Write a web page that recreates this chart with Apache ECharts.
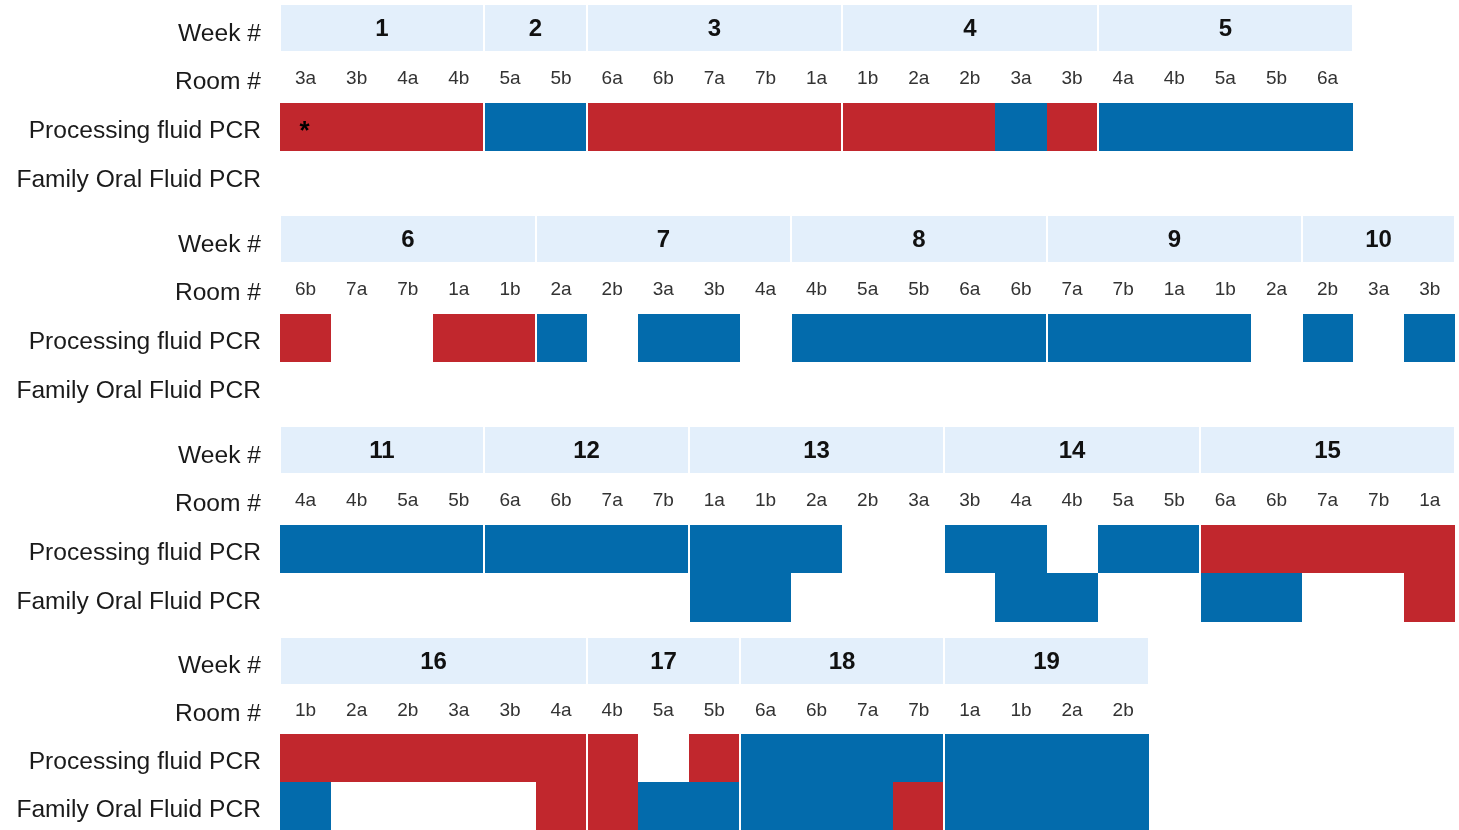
<!DOCTYPE html>
<html><head><meta charset="utf-8">
<script src="https://cdn.jsdelivr.net/npm/echarts@6/dist/echarts.min.js"></script>
<style>html,body{margin:0;padding:0;background:#fff}#c{width:1459px;height:830px}</style>
</head><body><div id="c"></div>
<script>
// ---------- DATA ----------
const rowNames = ['Week #', 'Room #', 'Processing fluid PCR', 'Family Oral Fluid PCR'];
// P = positive, N = negative, '' = not tested

const weeks1 = ['1', '2', '3', '4', '5'];
const weekSpans1 = [4, 2, 5, 5, 5];
const rooms1 = ['3a','3b','4a','4b','5a','5b','6a','6b','7a','7b','1a','1b','2a','2b','3a','3b','4a','4b','5a','5b','6a'];
const pcr1  = ['P','P','P','P','N','N','P','P','P','P','P','P','P','P','N','P','N','N','N','N','N'];
const oral1 = ['','','','','','','','','','','','','','','','','','','','',''];
const notes1 = [[0, 2, '*']];

const weeks2 = ['6', '7', '8', '9', '10'];
const weekSpans2 = [5, 5, 5, 5, 3];
const rooms2 = ['6b','7a','7b','1a','1b','2a','2b','3a','3b','4a','4b','5a','5b','6a','6b','7a','7b','1a','1b','2a','2b','3a','3b'];
const pcr2  = ['P','','','P','P','N','','N','N','','N','N','N','N','N','N','N','N','N','','N','','N'];
const oral2 = ['','','','','','','','','','','','','','','','','','','','','','',''];

const weeks3 = ['11', '12', '13', '14', '15'];
const weekSpans3 = [4, 4, 5, 5, 5];
const rooms3 = ['4a','4b','5a','5b','6a','6b','7a','7b','1a','1b','2a','2b','3a','3b','4a','4b','5a','5b','6a','6b','7a','7b','1a'];
const pcr3  = ['N','N','N','N','N','N','N','N','N','N','N','','','N','N','','N','N','P','P','P','P','P'];
const oral3 = ['','','','','','','','','N','N','','','','','N','N','','','N','N','','','P'];

const weeks4 = ['16', '17', '18', '19'];
const weekSpans4 = [6, 3, 4, 4];
const rooms4 = ['1b','2a','2b','3a','3b','4a','4b','5a','5b','6a','6b','7a','7b','1a','1b','2a','2b'];
const pcr4  = ['P','P','P','P','P','P','P','','P','N','N','N','N','N','N','N','N'];
const oral4 = ['N','','','','','P','P','N','N','N','N','N','P','N','N','N','N'];

// ---------- LAYOUT / STYLE ----------
const panels = [
  {weeks: weeks1, spans: weekSpans1, rooms: rooms1, pcr: pcr1, oral: oral1, notes: notes1},
  {weeks: weeks2, spans: weekSpans2, rooms: rooms2, pcr: pcr2, oral: oral2, notes: []},
  {weeks: weeks3, spans: weekSpans3, rooms: rooms3, pcr: pcr3, oral: oral3, notes: []},
  {weeks: weeks4, spans: weekSpans4, rooms: rooms4, pcr: pcr4, oral: oral4, notes: []}
];
const TOPS = [5, 216, 427, 638];
const LEFT = 280, COLW = 51.1, GH = 195;
const RED = '#C1272D', BLUE = '#036BAC', HEAD = '#E3EFFB';
const FONT = '"Liberation Sans", Arial, Helvetica, sans-serif';

const grid = [], xAxis = [], yAxis = [], series = [];

panels.forEach((p, i) => {
  grid.push({left: LEFT, top: TOPS[i], width: p.rooms.length * COLW, height: GH});
  xAxis.push({gridIndex: i, type: 'category', data: p.rooms, show: false});
  yAxis.push({
    gridIndex: i, type: 'category', inverse: true, data: rowNames,
    axisLine: {show: false}, axisTick: {show: false}, splitLine: {show: false},
    axisLabel: {fontSize: 24.6, color: '#1a1a1a', margin: 19, fontFamily: FONT,
      verticalAlign: 'top', lineHeight: 9}
  });

  // week header boxes
  const wdata = [];
  const bounds = [];
  let start = 0;
  p.spans.forEach((s, k) => {
    wdata.push([start, start + s - 1, 0]);
    start += s;
    if (k < p.spans.length - 1) bounds.push([start, 2]);
  });
  series.push({
    type: 'custom', xAxisIndex: i, yAxisIndex: i, silent: true, z: 2,
    encode: {x: [0, 1], y: 2}, data: wdata,
    renderItem: (params, api) => {
      const a = api.coord([api.value(0), 0]), b = api.coord([api.value(1), 0]);
      const sz = api.size([1, 1]);
      const x0 = Math.round(a[0] - sz[0] / 2) + 1, x1 = Math.round(b[0] + sz[0] / 2) - 1;
      const y0 = Math.round(a[1] - sz[1] / 2);
      return {type: 'group', children: [
        {type: 'rect', shape: {x: x0, y: y0, width: x1 - x0, height: 46}, style: {fill: HEAD}},
        {type: 'text', style: {text: p.weeks[params.dataIndex], x: (x0 + x1) / 2, y: y0 + 24,
          align: 'center', verticalAlign: 'middle', fontSize: 24, fontWeight: 'bold',
          fontFamily: FONT, fill: '#111'}}
      ]};
    }
  });

  // room labels
  series.push({
    type: 'custom', xAxisIndex: i, yAxisIndex: i, silent: true, z: 2,
    encode: {x: 0, y: 1}, data: p.rooms.map((r, k) => [k, 1]),
    renderItem: (params, api) => {
      const c = api.coord([api.value(0), api.value(1)]);
      return {type: 'text', style: {text: p.rooms[params.dataIndex], x: c[0], y: c[1] + 1,
        align: 'center', verticalAlign: 'middle', fontSize: 19, fontFamily: FONT, fill: '#333'}};
    }
  });

  // test result cells
  const cells = [];
  p.pcr.forEach((v, k) => { if (v) cells.push([k, 2, v === 'P' ? 1 : 0]); });
  p.oral.forEach((v, k) => { if (v) cells.push([k, 3, v === 'P' ? 1 : 0]); });
  series.push({
    type: 'custom', xAxisIndex: i, yAxisIndex: i, silent: true, z: 3,
    encode: {x: 0, y: 1}, data: cells,
    renderItem: (params, api) => {
      const c = api.coord([api.value(0), api.value(1)]);
      const sz = api.size([1, 1]);
      const x0 = Math.round(c[0] - sz[0] / 2), x1 = Math.round(c[0] + sz[0] / 2);
      const y0 = Math.round(c[1] - sz[1] / 2), y1 = Math.round(c[1] + sz[1] / 2);
      return {type: 'rect', shape: {x: x0, y: y0, width: x1 - x0, height: y1 - y0},
        style: {fill: api.value(2) === 1 ? RED : BLUE}};
    }
  });

  // white week separators across result rows
  series.push({
    type: 'custom', xAxisIndex: i, yAxisIndex: i, silent: true, z: 4,
    encode: {x: 0, y: 1}, data: bounds,
    renderItem: (params, api) => {
      const c = api.coord([api.value(0), 2]);
      const d = api.coord([api.value(0), 3]);
      const sz = api.size([1, 1]);
      const x = Math.round(c[0] - sz[0] / 2);
      const y0 = Math.round(c[1] - sz[1] / 2), y1 = Math.round(d[1] + sz[1] / 2);
      return {type: 'rect', shape: {x: x - 1, y: y0, width: 2, height: y1 - y0}, style: {fill: '#fff'}};
    }
  });

  // notes (asterisk)
  if (p.notes.length) {
    series.push({
      type: 'custom', xAxisIndex: i, yAxisIndex: i, silent: true, z: 5,
      encode: {x: 0, y: 1}, data: p.notes.map(n => [n[0], n[1]]),
      renderItem: (params, api) => {
        const c = api.coord([api.value(0), api.value(1)]);
        return {type: 'text', style: {text: p.notes[params.dataIndex][2], x: c[0] - 1, y: c[1] + 5,
          align: 'center', verticalAlign: 'middle', fontSize: 26, fontWeight: 'bold', fontFamily: FONT, fill: '#000'}};
      }
    });
  }
});

const chart = echarts.init(document.getElementById('c'), null, {renderer: 'canvas'});
chart.setOption({animation: false, backgroundColor: '#fff', grid, xAxis, yAxis, series});
</script>
</body></html>
